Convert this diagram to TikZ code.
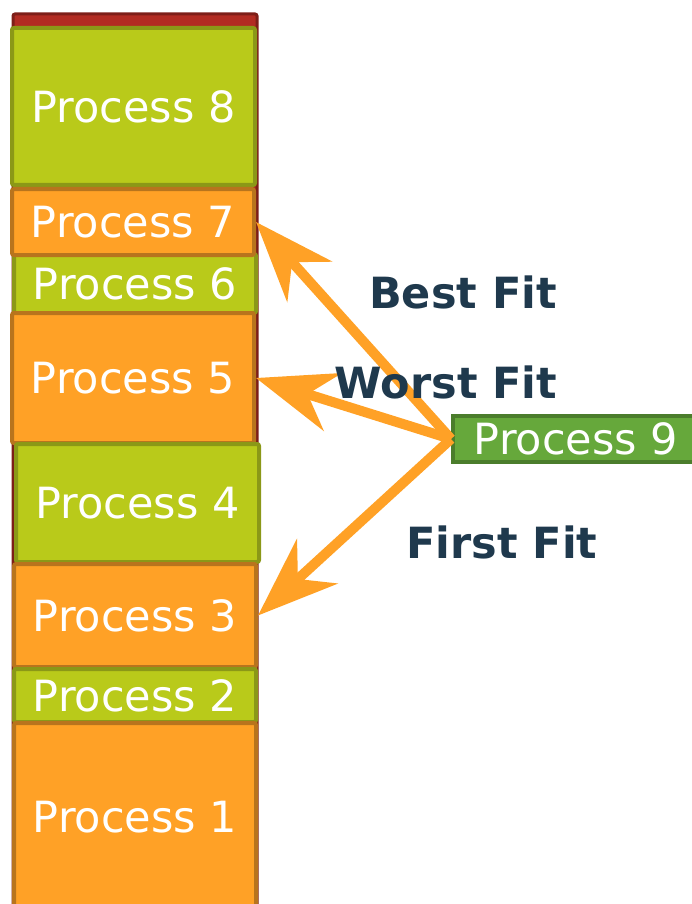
\documentclass[tikz,border=0pt]{standalone}
\usepackage{fontspec}
\setmainfont{DejaVu Sans}
\usetikzlibrary{arrows.meta}
\definecolor{lime}{HTML}{B9CA1A}
\definecolor{limeborder}{HTML}{8B9817}
\definecolor{orangefill}{HTML}{FFA126}
\definecolor{orangeborder}{HTML}{B8741D}
\definecolor{redfill}{HTML}{B22B22}
\definecolor{redborder}{HTML}{7D1E18}
\definecolor{grnfill}{HTML}{66A83B}
\definecolor{grnborder}{HTML}{4B7D2C}
\definecolor{navy}{HTML}{1F394D}
\tikzset{
  proc/.style={line width=4pt, rounded corners=2pt, inner sep=0pt, text=white,
    font=\fontsize{43}{50}\selectfont},
  greenproc/.style={proc, fill=lime, draw=limeborder},
  orangeproc/.style={proc, fill=orangefill, draw=orangeborder},
  fitlabel/.style={text=navy, anchor=base, inner sep=0pt,
    font=\fontsize{43}{50}\selectfont\bfseries},
  fitarrow/.style={draw=orangefill, line width=10pt,
    -{Stealth[length=80pt, width=60pt, inset=26pt]}}
}
\begin{document}
\begin{tikzpicture}[x=1pt, y=-1pt]
\useasboundingbox (0,0) rectangle (692,904);
\clip (0,0) rectangle (692,904);
% memory background
\draw[fill=redfill, draw=redborder, line width=3pt, rounded corners=2pt] (13,14) rectangle (257,920);
% processes
\node[greenproc, minimum width=243pt, minimum height=157pt] (p8) at (133.5,106.5) {Process 8};
\node[greenproc, minimum width=242pt, minimum height=59pt] (p6) at (135,283.5) {Process 6};
\node[orangeproc, minimum width=242pt, minimum height=66pt] (p7) at (133,222) {Process 7};
\node[orangeproc, minimum width=242pt, minimum height=130pt] (p5) at (133,378) {Process 5};
\node[greenproc, minimum width=243pt, minimum height=118pt] (p4) at (137.5,503) {Process 4};
\node[orangeproc, minimum width=242pt, minimum height=103pt] (p3) at (135,615.5) {Process 3};
\node[greenproc, minimum width=242pt, minimum height=53pt] (p2) at (135,695.5) {Process 2};
\node[orangeproc, minimum width=242pt, minimum height=188pt] (p1) at (135,817) {Process 1};
% incoming process
\node[proc, fill=grnfill, draw=grnborder, rounded corners=0pt, minimum width=246pt, minimum height=46pt] (p9) at (576,439) {Process 9};
% arrows
\draw[fitarrow] (p9.west) -- (p7.east);
\draw[fitarrow] (p9.west) -- (p5.east);
\draw[fitarrow] (p9.west) -- (p3.east);
% labels
\node[fitlabel] (best) at (463,308) {Best Fit};
\node[fitlabel] (worst) at (446,398) {Worst Fit};
\node[fitlabel] (first) at (502,558) {First Fit};
\end{tikzpicture}
\end{document}
